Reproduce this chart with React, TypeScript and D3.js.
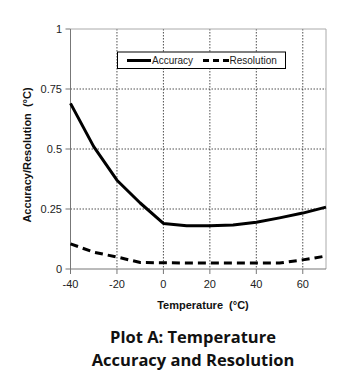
import React from "react";
import * as d3 from "d3";

const temps = [-40, -30, -20, -10, 0, 10, 20, 30, 40, 50, 60, 70];
const accuracy = [0.69, 0.51, 0.37, 0.275, 0.19, 0.18, 0.18, 0.183, 0.195, 0.213, 0.233, 0.258];
const resolution = [0.105, 0.07, 0.05, 0.027, 0.026, 0.025, 0.025, 0.025, 0.025, 0.025, 0.038, 0.054];
const xTicks = [-40, -20, 0, 20, 40, 60];
const yTicks = [0, 0.25, 0.5, 0.75, 1];
const yTickLabels = ["0", "0.25", "0.5", "0.75", "1"];

const W = 347, H = 373;
const L = 70.5, R = 326, T = 29, B = 269;

export default function App() {
  const x = d3.scaleLinear().domain([-40, 70]).range([L, R]);
  const y = d3.scaleLinear().domain([0, 1]).range([B, T]);
  const line = d3.line<number>().x((_, i) => x(temps[i])).y((d) => y(d));
  const font = "'Liberation Sans', Arial, sans-serif";
  return (
    <svg width={W} height={H} style={{ position: "absolute", left: 0, top: 0, background: "#fff" }}>
      <rect x={0} y={0} width={W} height={H} fill="#fff" />
      {xTicks.filter((t) => t !== -40).map((t) => (
        <line key={"gx" + t} x1={x(t)} x2={x(t)} y1={T} y2={B} stroke="#222" strokeWidth={0.8} strokeDasharray="1.5,1.5" />
      ))}
      {yTicks.filter((t) => t !== 0 && t !== 1).map((t) => (
        <line key={"gy" + t} x1={L} x2={R} y1={y(t)} y2={y(t)} stroke="#222" strokeWidth={0.8} strokeDasharray="1.5,1.5" />
      ))}
      <line x1={L} x2={R} y1={T} y2={T} stroke="#aaa" strokeWidth={1} />
      <line x1={R} x2={R} y1={T} y2={B} stroke="#aaa" strokeWidth={1} />
      <line x1={L} x2={L} y1={T} y2={B} stroke="#777" strokeWidth={1} />
      <line x1={L} x2={R} y1={B} y2={B} stroke="#777" strokeWidth={1} />
      {yTicks.map((t, i) => (
        <g key={"yt" + t}>
          <line x1={L - 5} x2={L} y1={y(t)} y2={y(t)} stroke="#777" />
          <text x={L - 8.5} y={y(t) + 4} textAnchor="end" fontSize={11} fontFamily={font} fill="#222">{yTickLabels[i]}</text>
        </g>
      ))}
      {xTicks.map((t) => (
        <g key={"xt" + t}>
          <line x1={x(t)} x2={x(t)} y1={B} y2={B + 5} stroke="#777" />
          <text x={x(t)} y={B + 19} textAnchor="middle" fontSize={11} fontFamily={font} fill="#222">{t}</text>
        </g>
      ))}
      <path d={line(accuracy) || ""} fill="none" stroke="#000" strokeWidth={3} strokeLinejoin="round" />
      <path d={line(resolution) || ""} fill="none" stroke="#000" strokeWidth={3} strokeDasharray="8,5" />
      <rect x={117.5} y={52} width={168} height={16.5} fill="#fff" stroke="#000" strokeWidth={1} />
      <line x1={127} x2={151} y1={60.5} y2={60.5} stroke="#000" strokeWidth={3} />
      <text x={152} y={64} fontSize={10} fontFamily={font} fill="#222">Accuracy</text>
      <line x1={203} x2={229} y1={60.5} y2={60.5} stroke="#000" strokeWidth={3} strokeDasharray="6,4" />
      <text x={229.5} y={64} fontSize={10} fontFamily={font} fill="#222">Resolution</text>
      <text x={203} y={309} textAnchor="middle" fontSize={11} fontWeight="bold" fontFamily={font} fill="#111">{"Temperature\u00a0\u00a0(°C)"}</text>
      <text transform={`translate(31,155) rotate(-90)`} textAnchor="middle" fontSize={11} fontWeight="bold" fontFamily={font} fill="#111">{"Accuracy/Resolution\u00a0\u00a0(°C)"}</text>
      <text x={193} y={343} textAnchor="middle" fontSize={16.5} fontWeight="bold" fontFamily="'Open Sans', sans-serif" fill="#111">Plot A: Temperature</text>
      <text x={193} y={366} textAnchor="middle" fontSize={16.5} fontWeight="bold" fontFamily="'Open Sans', sans-serif" fill="#111">Accuracy and Resolution</text>
    </svg>
  );
}
